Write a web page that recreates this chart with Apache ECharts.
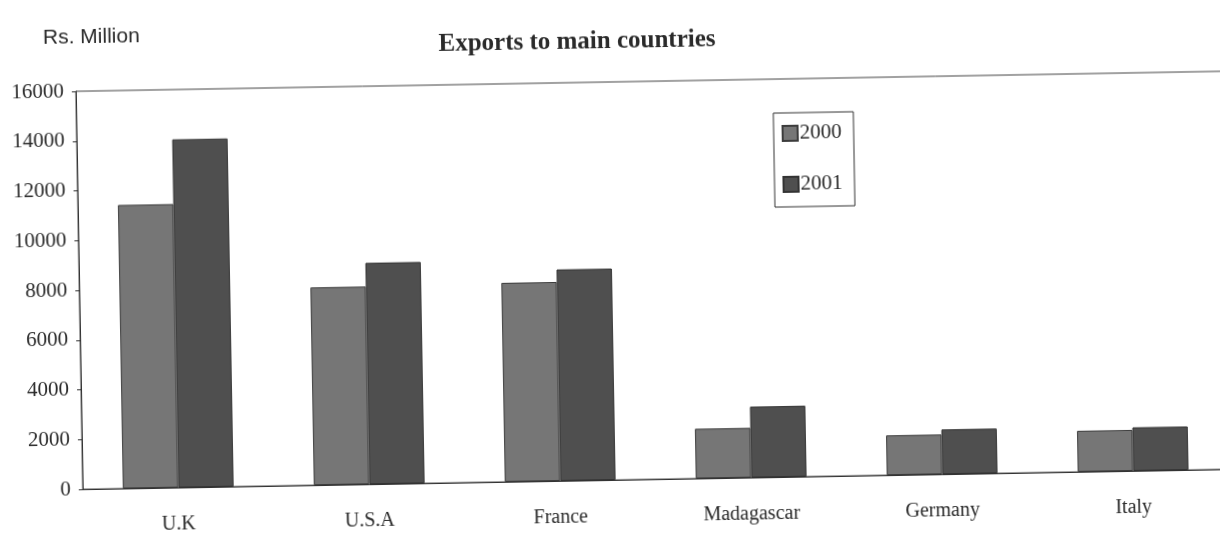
<!DOCTYPE html>
<html>
<head>
<meta charset="utf-8">
<script src="https://cdn.jsdelivr.net/npm/echarts@6/dist/echarts.min.js"></script>
<style>
  html, body { margin: 0; padding: 0; background: #fff; overflow: hidden; }
  /* the scanned page sits about one degree off level; canvas is a bit wider so the tilt leaves no bare corners */
  #chart { position: absolute; left: -20px; top: 0; width: 1260px; height: 538px; transform: rotate(-1deg); transform-origin: 50% 50%; }
</style>
</head>
<body>
<div id="chart"></div>
<script>
// data
const countries = ['U.K', 'U.S.A', 'France', 'Madagascar', 'Germany', 'Italy'];
const exports2000 = [11400, 7950, 8000, 2000, 1600, 1650];
const exports2001 = [14000, 8900, 8500, 2850, 1800, 1750];
const yTicks = [0, 2000, 4000, 6000, 8000, 10000, 12000, 14000, 16000];

const serif = '"Liberation Serif", "Times New Roman", serif';
const ink = '#2a2a2a';
const dx = 20; // canvas offset

const mChart = echarts.init(document.getElementById('chart'));

const options = {
  backgroundColor: '#fff',
  animation: false,
  title: [{
    text: 'Exports to main countries',
    left: 576 + dx,
    top: 24,
    textAlign: 'center',
    textStyle: { fontFamily: serif, fontWeight: 'bold', fontSize: 25, color: ink }
  }, {
    text: 'Rs. Million',
    left: 42 + dx,
    top: 13,
    textStyle: { fontFamily: '"Liberation Sans", Arial, sans-serif', fontWeight: 'normal', fontSize: 21, color: ink }
  }],
  legend: {
    orient: 'vertical',
    left: 776 + dx,
    top: 116,
    padding: [10, 12, 12, 8],
    itemGap: 30,
    itemWidth: 15,
    itemHeight: 15,
    icon: 'rect',
    borderColor: '#333',
    borderWidth: 1,
    textStyle: { fontFamily: serif, fontSize: 21, color: ink, padding: [0, 0, 0, -3] },
    data: ['2000', '2001']
  },
  grid: {
    left: 79 + dx,
    top: 82,
    width: 1146,
    height: 398,
    show: true,
    borderColor: '#444',
    borderWidth: 1
  },
  xAxis: {
    type: 'category',
    data: countries,
    axisLine: { lineStyle: { color: '#333', width: 1 } },
    axisTick: { show: false },
    axisLabel: { fontFamily: serif, fontSize: 20, color: ink, margin: 27 }
  },
  yAxis: {
    type: 'value',
    min: yTicks[0],
    max: yTicks[yTicks.length - 1],
    interval: 2000,
    axisLine: { show: true, lineStyle: { color: '#333', width: 1 } },
    axisTick: { show: true, length: 4, lineStyle: { color: '#333' } },
    axisLabel: { fontFamily: serif, fontSize: 21, color: ink, margin: 12, formatter: v => String(v) },
    splitLine: { show: false }
  },
  series: [{
    name: '2000',
    type: 'bar',
    data: exports2000,
    barGap: '0%',
    barCategoryGap: '42%',
    itemStyle: { color: '#767676', borderColor: '#3c3c3c', borderWidth: 1 }
  }, {
    name: '2001',
    type: 'bar',
    data: exports2001,
    itemStyle: { color: '#4f4f4f', borderColor: '#333', borderWidth: 1 }
  }]
};

mChart.setOption(options);
</script>
</body>
</html>
